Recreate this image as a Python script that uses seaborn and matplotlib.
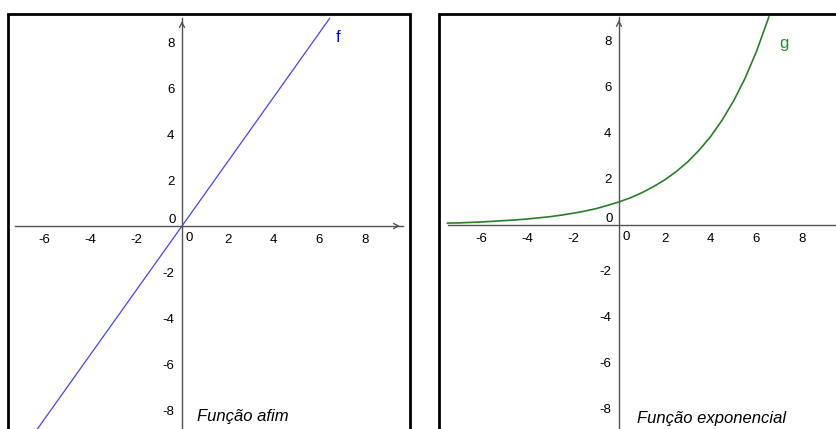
import matplotlib
matplotlib.use('Agg')
import matplotlib.pyplot as plt
import seaborn as sns
import pandas as pd
from matplotlib.patches import Rectangle

# tick values on both panels
x_ticks = [-6, -4, -2, 2, 4, 6, 8]
y_ticks = [-8, -6, -4, -2, 2, 4, 6, 8]

# f: straight line
f_x = [-7.3, 0, 6.45]
f_y = [-10.2, 0, 9.03]

# g: exponential curve
g_x = [-7.5, -7.0, -6.5, -6.0, -5.5, -5.0, -4.5, -4.0, -3.5, -3.0, -2.5, -2.0,
       -1.5, -1.0, -0.5, 0.0, 0.5, 1.0, 1.5, 2.0, 2.5, 3.0, 3.5, 4.0, 4.5,
       5.0, 5.5, 6.0, 6.5, 6.55]
g_y = [0.08, 0.09, 0.11, 0.13, 0.16, 0.19, 0.22, 0.26, 0.31, 0.36, 0.43, 0.51,
       0.60, 0.71, 0.85, 1.00, 1.18, 1.40, 1.66, 1.96, 2.32, 2.74, 3.25, 3.84, 4.55,
       5.38, 6.36, 7.53, 8.91, 9.05]

sns.set_style('white')
plt.rcParams['font.family'] = ['Liberation Sans', 'DejaVu Sans']
plt.rcParams['axes.unicode_minus'] = False
plt.rcParams['text.color'] = 'black'

axis_color = '#555555'


def setup_panel(ax, xlim, ylim, xbounds, ybounds):
    ax.set_xlim(*xlim)
    ax.set_ylim(*ylim)
    for side in ['top', 'right']:
        ax.spines[side].set_visible(False)
    for side in ['left', 'bottom']:
        ax.spines[side].set_position(('data', 0))
        ax.spines[side].set_color(axis_color)
        ax.spines[side].set_linewidth(1)
    ax.spines['bottom'].set_bounds(*xbounds)
    ax.spines['left'].set_bounds(*ybounds)
    ax.set_xticks(x_ticks)
    ax.set_yticks(y_ticks)
    ax.tick_params(direction='inout', length=3, width=0.8, color=axis_color,
                   labelsize=9.5, pad=4, labelcolor='black')
    ax.set_xlabel('')
    ax.set_ylabel('')
    # arrow heads
    ax.annotate('', xy=(xbounds[1], 0), xytext=(xbounds[1] - 0.4, 0),
                arrowprops=dict(arrowstyle='->', color=axis_color, lw=1,
                                mutation_scale=9))
    ax.annotate('', xy=(0, ybounds[1]), xytext=(0, ybounds[1] - 0.4),
                arrowprops=dict(arrowstyle='->', color=axis_color, lw=1,
                                mutation_scale=9))
    # origin labels
    ax.annotate('0', xy=(0, 0), xytext=(5, -8.6), textcoords='offset points',
                ha='center', va='center', fontsize=9.5)
    ax.annotate('0', xy=(0, 0), xytext=(-7, 4.3), textcoords='offset points',
                ha='center', va='center', fontsize=9.5)
    # black frame around the view
    ax.add_patch(Rectangle((0, 0), 1, 1, transform=ax.transAxes, fill=False,
                           edgecolor='black', lw=2, clip_on=False, zorder=5))
    ax.patch.set_facecolor('white')


fig = plt.figure(figsize=(8.36, 4.29), dpi=100)

ax1 = fig.add_axes([8 / 836, 1 - 444.5 / 429, 402 / 836, 430.5 / 429])
ax2 = fig.add_axes([439 / 836, 1 - 443.5 / 429, 411 / 836, 429.5 / 429])

df_f = pd.DataFrame({'x': f_x, 'y': f_y})
df_g = pd.DataFrame({'x': g_x, 'y': g_y})

sns.lineplot(data=df_f, x='x', y='y', ax=ax1, color='#4444ff', lw=0.9,
             sort=False, estimator=None)
setup_panel(ax1, (-7.6, 9.96), (-9.5, 9.22), (-7.3, 9.65), (-9.5, 9.04))
ax1.text(6.8, 8.2, 'f', color='#0000ff', fontsize=12, ha='center', va='center')
ax1.text(0.65, -8.3, 'Função afim', fontsize=12, style='italic',
         ha='left', va='center', color='black')

sns.lineplot(data=df_g, x='x', y='y', ax=ax2, color='#2a7f2a', lw=1.2,
             sort=False, estimator=None)
setup_panel(ax2, (-7.86, 10.09), (-9.5, 9.17), (-7.47, 10.09), (-9.5, 9.04))
ax2.text(7.2, 7.9, 'g', color='#2a8a2a', fontsize=12, ha='center', va='center')
ax2.text(0.79, -8.4, 'Função exponencial', fontsize=12, style='italic',
         ha='left', va='center', color='black')

fig.savefig('out.png', dpi=100)
